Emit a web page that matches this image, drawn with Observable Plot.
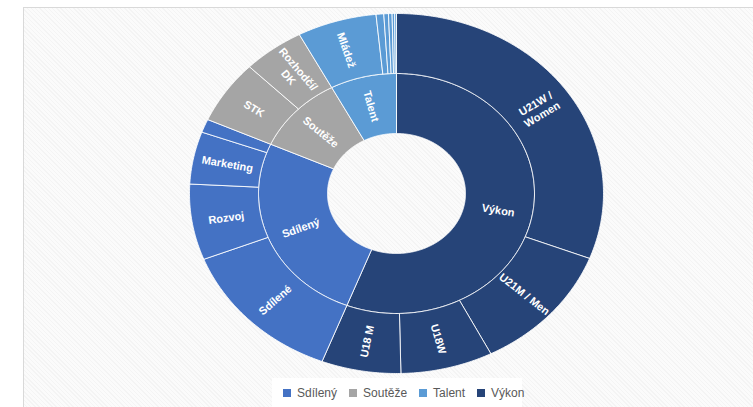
<!DOCTYPE html>
<html>
<head>
<meta charset="utf-8">
<script src="https://cdn.jsdelivr.net/npm/d3@7"></script>
<script src="https://cdn.jsdelivr.net/npm/@observablehq/plot@0.6"></script>
<style>
  html, body { margin: 0; padding: 0; background: #ffffff; }
  body { width: 753px; height: 407px; position: relative; overflow: hidden; font-family: "Liberation Sans", Arial, sans-serif; }
  #panel {
    position: absolute; left: 23px; top: 7px; right: -2px; bottom: -2px;
    border-top: 1px solid #d9d9d9; border-left: 1px solid #d9d9d9;
    background: repeating-linear-gradient(45deg, #f4f4f4 0px, #f4f4f4 1px, #fbfbfb 1px, #fbfbfb 3px);
  }
  #chart { position: absolute; left: 0; top: 0; }
  #legend {
    position: absolute; left: 272px; top: 378px; width: 250px; height: 29px;
    background: #ffffff; overflow: visible;
  }
  #legend > div {
    position: absolute; left: 11px; top: 0; height: 29px; min-height: 0 !important; margin: 0 !important;
    display: flex !important; align-items: center !important;
    width: max-content !important; white-space: nowrap !important; flex-wrap: nowrap !important;
    font-family: "Liberation Sans", Arial, sans-serif !important; font-size: 12px !important; color: #595959 !important;
  }
  #legend span { margin-right: 12px !important; white-space: nowrap !important; display: inline-flex !important; align-items: center !important; }
  #legend span:last-child { margin-right: 0 !important; }
  #legend svg { margin-right: 6px !important; }
</style>
</head>
<body>
<div id="panel"></div>
<div id="chart"></div>
<div id="legend"></div>
<script>
// ---- Data ----
const groups = ["Výkon", "Sdílený", "Soutěže", "Talent"];          // inner ring, clockwise from 12 o'clock
const legendOrder = ["Sdílený", "Soutěže", "Talent", "Výkon"];
const legendColors = ["#4472C4", "#A5A5A5", "#5B9BD5", "#264478"];

const leafGroup = ["Výkon", "Výkon", "Výkon", "Výkon",
                   "Sdílený", "Sdílený", "Sdílený", "Sdílený",
                   "Soutěže", "Soutěže",
                   "Talent", "Talent", "Talent", "Talent", "Talent", "Talent"];
const leafLabels = ["U21W /\nWomen", "U21M / Men", "U18W", "U18 M",
                    "Sdílené", "Rozvoj", "Marketing", "",
                    "STK", "Rozhodčí/\nDK",
                    "Mládež", "", "", "", "", ""];
const leafValues = [30.9, 11.6, 7.2, 6.2,
                    13.2, 6.8, 4.7, 1.2,
                    5.7, 4.8,
                    6.2, 0.6, 0.36, 0.28, 0.2, 0.14];

// ---- Layout ----
const W = 753, H = 378;
const CX = 396, CY = 193;      // centre in pixels
const RX = 207, RY = 180;      // outer radius in pixels (horizontal / vertical)
const R0 = 1 / 3, R1 = 2 / 3, R2 = 1;

const total = d3.sum(leafValues);
const groupSums = groups.map(g => d3.sum(leafValues.filter((v, i) => leafGroup[i] === g)));

function arcPoints(id, group, a0, a1, r0, r1) {
  const n = Math.max(2, Math.ceil((a1 - a0) / (Math.PI / 360)));
  const pts = [];
  for (let i = 0; i <= n; i++) {
    const a = a0 + (a1 - a0) * i / n;
    pts.push({id, group, x: r1 * Math.sin(a), y: r1 * Math.cos(a)});
  }
  for (let i = n; i >= 0; i--) {
    const a = a0 + (a1 - a0) * i / n;
    pts.push({id, group, x: r0 * Math.sin(a), y: r0 * Math.cos(a)});
  }
  pts.push({...pts[0]});
  return pts;
}
function rotationFor(a) {
  const dx = Math.sin(a) * RX, dy = -Math.cos(a) * RY;
  let deg = Math.atan2(dy, dx) * 180 / Math.PI;
  if (deg > 90) deg -= 180;
  if (deg < -90) deg += 180;
  return deg;
}

const polys = [];
const labels = [];
let acc = 0;
groups.forEach((g, gi) => {
  const a0 = acc / total * 2 * Math.PI;
  const a1 = (acc + groupSums[gi]) / total * 2 * Math.PI;
  polys.push(...arcPoints("g" + gi, g, a0, a1, R0, R1));
  const am = (a0 + a1) / 2, rm = (R0 + R1) / 2;
  labels.push({text: g, x: rm * Math.sin(am), y: rm * Math.cos(am), rot: rotationFor(am)});
  acc += groupSums[gi];
});
acc = 0;
leafValues.forEach((v, i) => {
  const a0 = acc / total * 2 * Math.PI;
  const a1 = (acc + v) / total * 2 * Math.PI;
  polys.push(...arcPoints("l" + i, leafGroup[i], a0, a1, R1, R2));
  if (leafLabels[i]) {
    const am = (a0 + a1) / 2, rm = (R1 + R2) / 2;
    labels.push({text: leafLabels[i], x: rm * Math.sin(am), y: rm * Math.cos(am), rot: rotationFor(am)});
  }
  acc += v;
});

const colorScale = {type: "ordinal", domain: legendOrder, range: legendColors};

const chart = Plot.plot({
  width: W, height: H,
  margin: 0,
  style: {background: "transparent", overflow: "visible"},
  x: {domain: [-CX / RX, (W - CX) / RX], axis: null},
  y: {domain: [-(H - CY) / RY, CY / RY], axis: null},
  color: colorScale,
  marks: [
    Plot.line(polys, {x: "x", y: "y", z: "id", fill: "group", stroke: "#ffffff", strokeWidth: 1, strokeOpacity: 0.85, curve: "linear"}),
    Plot.text(labels, {x: "x", y: "y", text: "text", rotate: "rot", fill: "#ffffff",
      fontWeight: "bold", fontSize: 11, fontFamily: "Liberation Sans, Arial, sans-serif", lineHeight: 1.15})
  ]
});
document.getElementById("chart").appendChild(chart);

const legend = Plot.legend({color: colorScale, swatchSize: 8,
  style: {fontFamily: "Liberation Sans, Arial, sans-serif", fontSize: "12px", color: "#595959"}});
document.getElementById("legend").appendChild(legend);
</script>
</body>
</html>
